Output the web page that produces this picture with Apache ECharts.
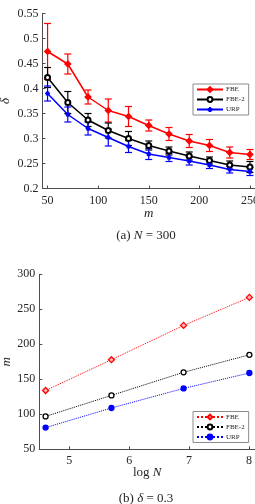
<!DOCTYPE html>
<html>
<head>
<meta charset="utf-8">
<script src="https://cdn.jsdelivr.net/npm/echarts@6/dist/echarts.min.js"></script>
<style>
html, body { margin: 0; padding: 0; background: #fff; }
#chart { width: 255px; height: 504px; }
</style>
</head>
<body>
<div id="chart"></div>
<script>
// (a) N = 300 : delta vs m, with error bars
var mValues = [50, 70, 90, 110, 130, 150, 170, 190, 210, 230, 250];
var fbeDelta = [0.474, 0.449, 0.383, 0.356, 0.344, 0.326, 0.309, 0.295, 0.286, 0.272, 0.268];
var fbeErr = [0.056, 0.020, 0.014, 0.023, 0.020, 0.011, 0.013, 0.013, 0.012, 0.011, 0.010];
var fbe2Delta = [0.422, 0.372, 0.337, 0.316, 0.300, 0.286, 0.275, 0.265, 0.256, 0.247, 0.243];
var fbe2Err = [0.020, 0.022, 0.013, 0.015, 0.014, 0.009, 0.008, 0.008, 0.007, 0.008, 0.011];
var urpDelta = [0.390, 0.348, 0.320, 0.302, 0.284, 0.269, 0.262, 0.255, 0.247, 0.238, 0.234];
var urpErr = [0.015, 0.015, 0.013, 0.017, 0.012, 0.011, 0.008, 0.008, 0.007, 0.007, 0.008];
var mTicks = [50, 100, 150, 200, 250];

// (b) delta = 0.3 : m vs log N
var logN = [4.605, 5.704, 6.908, 8.006];
var fbeM = [134, 178, 227, 267];
var fbe2M = [97, 127, 160, 185];
var urpM = [81, 109, 137, 159];
var logNTicks = [5, 6, 7, 8];

var serif = 'Liberation Serif',
    textColor = '#262626',
    axisColor = '#4d4d4d',
    red = '#ff0000',
    black = '#000000',
    blue = '#0000ff',
    asterisk = 'path://M5,0L5,10M0,5L10,5M1.5,1.5L8.5,8.5M1.5,8.5L8.5,1.5';

var mathRich = {
    n: { fontFamily: serif, fontSize: 13, fontWeight: 'normal', color: textColor },
    i: { fontFamily: serif, fontSize: 13, fontWeight: 'normal', fontStyle: 'italic', color: textColor }
};

function pairs(xs, ys){
    return xs.map(function(x, i){ return [x, ys[i]]; });
}

function errorSeries(name, xs, mean, err, color){
    var data = xs.map(function(x, i){
        return [x, mean[i] - err[i], mean[i] + err[i]];
    });
    return {
        type: 'custom',
        name: name,
        xAxisIndex: 0,
        yAxisIndex: 0,
        silent: true,
        data: data,
        encode: { x: 0, y: [1, 2] },
        renderItem: function(params, api){
            var lo = api.coord([api.value(0), api.value(1)]),
                hi = api.coord([api.value(0), api.value(2)]),
                w = 3.5,
                style = { stroke: color, lineWidth: 1.2 };
            return {
                type: 'group',
                children: [
                    { type: 'line', shape: { x1: lo[0], y1: lo[1], x2: hi[0], y2: hi[1] }, style: style },
                    { type: 'line', shape: { x1: lo[0] - w, y1: lo[1], x2: lo[0] + w, y2: lo[1] }, style: style },
                    { type: 'line', shape: { x1: hi[0] - w, y1: hi[1], x2: hi[0] + w, y2: hi[1] }, style: style }
                ]
            };
        }
    };
}

function topLine(name, ys, color, symbol, size){
    return {
        type: 'line',
        name: name,
        xAxisIndex: 0,
        yAxisIndex: 0,
        data: pairs(mValues, ys),
        symbol: symbol,
        symbolSize: size,
        showAllSymbol: true,
        lineStyle: { color: color, width: 1.5 },
        itemStyle: { color: color, borderColor: color, borderWidth: 1.2 },
        emphasis: { disabled: true }
    };
}

function bottomLine(name, ys, color, symbol, size, fill){
    return {
        type: 'line',
        name: name,
        xAxisIndex: 1,
        yAxisIndex: 1,
        data: pairs(logN, ys),
        symbol: symbol,
        symbolSize: size,
        lineStyle: { color: color, width: 1, type: 'dotted' },
        itemStyle: { color: fill, borderColor: color, borderWidth: 1.3 },
        emphasis: { disabled: true }
    };
}

var axisCommon = {
    axisLine: { show: true, lineStyle: { color: axisColor, width: 1 } },
    axisTick: { show: true, inside: true, length: 3, lineStyle: { color: axisColor } },
    splitLine: { show: false },
    axisLabel: { color: textColor, fontFamily: serif, fontSize: 12 }
};

function axis(extra){
    var o = JSON.parse(JSON.stringify(axisCommon));
    for (var k in extra) {
        if (typeof extra[k] === 'object' && o[k]) {
            for (var j in extra[k]) o[k][j] = extra[k][j];
        } else {
            o[k] = extra[k];
        }
    }
    return o;
}

var legendCommon = {
    orient: 'vertical',
    itemWidth: 26,
    itemHeight: 6,
    itemGap: 3,
    padding: [2, 4, 2, 3],
    borderColor: '#8c8c8c',
    borderWidth: 1,
    borderRadius: 0,
    backgroundColor: '#fff',
    textStyle: { fontFamily: serif, fontSize: 7, color: textColor, padding: [0, 0, 0, -2] },
    selectedMode: false
};

function legend(extra){
    var o = {};
    for (var k in legendCommon) o[k] = legendCommon[k];
    for (var j in extra) o[j] = extra[j];
    return o;
}

var chart = echarts.init(document.getElementById('chart'), null, { renderer: 'canvas' });

chart.setOption({
    backgroundColor: '#fff',
    animation: false,
    title: [{
        text: '{n|(a) }{i|N}{n| = 300}',
        left: 141,
        top: 224,
        textAlign: 'center',
        textStyle: { fontWeight: 'normal', rich: mathRich }
    }, {
        text: '{n|(b) }{i|δ}{n| = 0.3}',
        left: 141,
        top: 487,
        textAlign: 'center',
        textStyle: { fontWeight: 'normal', rich: mathRich }
    }],
    grid: [
        { left: 42.5, right: 0, top: 13.5, bottom: 315.5, outerBoundsMode: 'none' },
        { left: 39.3, right: 0, top: 274.3, bottom: 54.7, outerBoundsMode: 'none' }
    ],
    xAxis: [
        axis({
            type: 'value', gridIndex: 0, min: 45, max: 255,
            name: 'm', nameLocation: 'middle', nameGap: 19, nameMoveOverlap: false,
            nameTextStyle: { fontFamily: serif, fontStyle: 'italic', fontSize: 13, color: textColor },
            axisTick: { customValues: mTicks },
            axisLabel: { customValues: mTicks, margin: 6 }
        }),
        axis({
            type: 'value', gridIndex: 1, min: 4.5, max: 8.1,
            name: '{n|log }{i|N}', nameLocation: 'middle', nameGap: 17, nameMoveOverlap: false,
            nameTextStyle: { rich: mathRich },
            axisTick: { customValues: logNTicks },
            axisLabel: { customValues: logNTicks, margin: 6 }
        })
    ],
    yAxis: [
        axis({
            type: 'value', gridIndex: 0, min: 0.2, max: 0.55, interval: 0.05,
            name: 'δ', nameLocation: 'middle', nameGap: 30, nameRotate: 90, nameMoveOverlap: false,
            nameTextStyle: { fontFamily: serif, fontStyle: 'italic', fontSize: 13, color: textColor },
            axisLabel: { margin: 4 }
        }),
        axis({
            type: 'value', gridIndex: 1, min: 50, max: 300, interval: 50,
            name: 'm', nameLocation: 'middle', nameGap: 26, nameRotate: 90, nameMoveOverlap: false,
            nameTextStyle: { fontFamily: serif, fontStyle: 'italic', fontSize: 13, color: textColor },
            axisLabel: { margin: 4 }
        })
    ],
    legend: [
        legend({ left: 193, top: 84, data: ['FBE', 'FBE-2', 'URP'] }),
        legend({
            left: 193, top: 411.5,
            data: ['b:FBE', 'b:FBE-2', 'b:URP'],
            formatter: function(name){ return name.replace('b:', ''); }
        })
    ],
    series: [
        errorSeries('FBE err', mValues, fbeDelta, fbeErr, red),
        topLine('FBE', fbeDelta, red, 'diamond', 6),
        errorSeries('FBE-2 err', mValues, fbe2Delta, fbe2Err, black),
        topLine('FBE-2', fbe2Delta, black, 'emptyCircle', 5),
        errorSeries('URP err', mValues, urpDelta, urpErr, blue),
        topLine('URP', urpDelta, blue, asterisk, 5),
        bottomLine('b:FBE', fbeM, red, 'diamond', 6, '#ffb3b3'),
        bottomLine('b:FBE-2', fbe2M, black, 'circle', 5, '#fff'),
        bottomLine('b:URP', urpM, blue, 'circle', 5, blue)
    ]
});
</script>
</body>
</html>
